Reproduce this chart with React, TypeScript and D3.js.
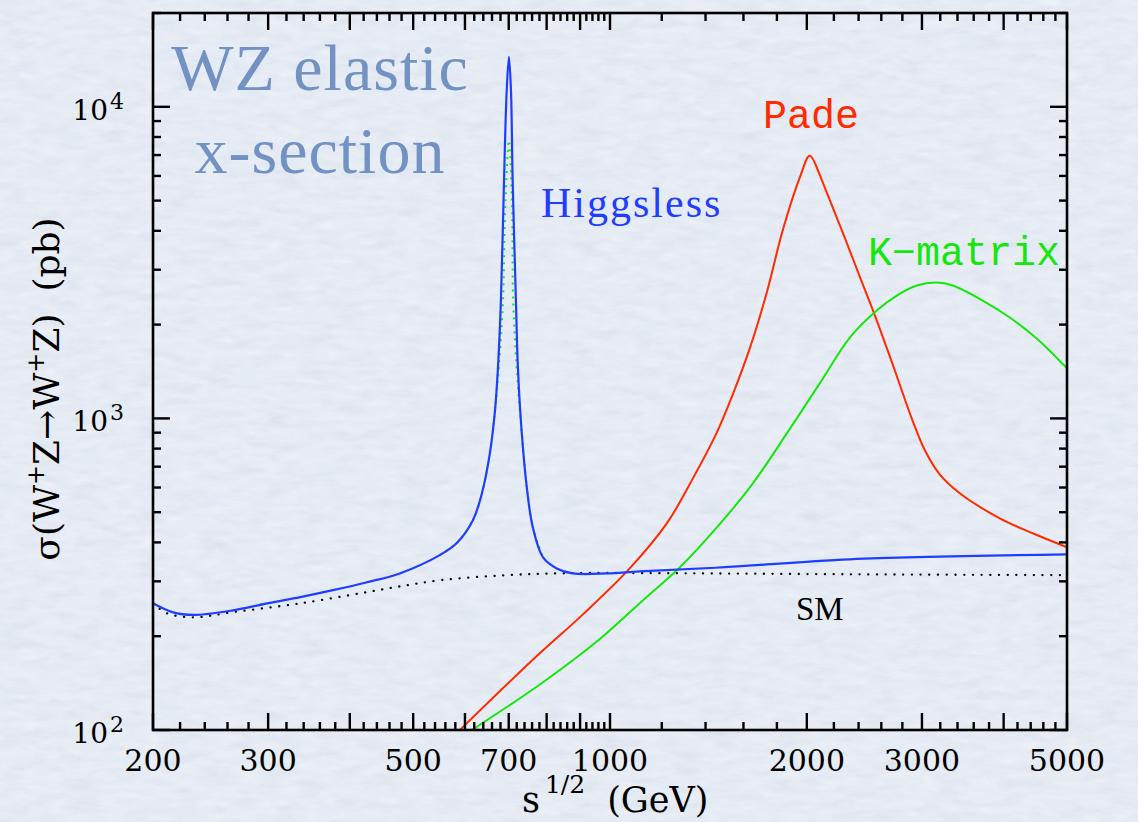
import React from "react";
import * as d3 from "d3";

const W = 1138;
const H = 822;

// axis domains / tick labels
const xDomain: [number, number] = [200, 5000];
const yDomain: [number, number] = [100, 20000];
const xTickLabels = [200, 300, 500, 700, 1000, 2000, 3000, 5000];
const xMajorTicks = [200, 300, 400, 500, 600, 700, 800, 900, 1000, 2000, 3000, 4000, 5000];
const yDecades = [100, 1000, 10000];
const yTickExponents = ["2", "3", "4"];

// series: [sqrt(s) GeV, sigma pb]
const higgsless: [number, number][] = [
  [200, 255], [214, 239], [231, 234], [265, 242], [299, 255], [336, 267], [377, 281],
  [425, 298], [477, 318], [549, 364], [583, 398], [617, 471], [637, 575], [655, 772],
  [667, 1061], [674, 1457], [681, 2388], [688.5, 5794], [695, 11250], [700.6, 14460],
  [705.6, 11250], [709.8, 5794], [718, 2388], [723, 1457], [733, 895], [746, 601],
  [762, 447], [790, 358], [829, 330], [877, 318], [989, 318], [1111, 323], [1500, 333],
  [2327, 353], [5000, 366],
];
const higgslessAlt: [number, number][] = [
  [549, 364], [583, 398], [617, 471], [637, 575], [655, 772], [667, 1061], [676, 1457],
  [686, 2388], [692, 5000], [700.6, 7800], [708, 5000], [711, 2388], [720, 1457],
  [733, 895], [746, 601], [762, 447], [790, 358],
];
const sm: [number, number][] = [
  [200, 255], [210, 237], [230, 230], [265, 239], [336, 255], [425, 277], [477, 289],
  [554, 303], [696, 314], [858, 318.5], [1224, 318.5], [2327, 316], [5000, 314],
];
const pade: [number, number][] = [
  [589.5, 100], [762, 168], [909, 235], [1072, 330], [1222, 461], [1339, 642],
  [1457, 902], [1541, 1194], [1636, 1677], [1737, 2534], [1837, 4006], [1951, 5922],
  [2021, 6966], [2093, 6053], [2116, 5706], [2270, 3947], [2410, 2852], [2559, 2061],
  [2727, 1425], [2894, 1000], [3031, 790], [3194, 661], [3427, 575], [3946, 478],
  [4431, 428], [5000, 386],
];
const kmatrix: [number, number][] = [
  [614.8, 100], [781, 140], [965, 196], [1119, 259], [1279, 333], [1457, 447], [1654, 619],
  [1864, 895], [2093, 1295], [2327, 1818], [2558, 2220], [2746, 2479], [2946, 2669],
  [3161, 2729], [3344, 2669], [3716, 2388], [4088, 2107], [4494, 1805], [5000, 1447],
];

const BLUE = "#1f3dff";
const RED = "#ff2a00";
const GREEN = "#16e60e";
const TITLE = "#7292c3";

export default function App() {
  const left = 153, right = 1067, top = 13, bottom = 730;
  const x = d3.scaleLog().domain(xDomain).range([left, right]);
  const y = d3.scaleLog().domain(yDomain).range([bottom, top]);
  const line = d3
    .line<[number, number]>()
    .x((d) => x(d[0]))
    .y((d) => y(d[1]))
    .curve(d3.curveCatmullRom.alpha(0.5));

  const majLen = 17, minLen = 8;

  const xMinor: number[] = [];
  for (let v = 220; v < 1000; v += 20) if (v % 100 !== 0) xMinor.push(v);
  for (let v = 1200; v < 5000; v += 200) if (v % 1000 !== 0) xMinor.push(v);

  const yMinor: number[] = [];
  yDecades.forEach((d) => {
    for (let k = 2; k <= 9; k++) if (k * d <= yDomain[1]) yMinor.push(k * d);
  });

  const tickStroke = { stroke: "#000", strokeWidth: 2.4 };
  const serif = "'DejaVu Serif', serif";

  return (
    <svg
      width={W}
      height={H}
      style={{ position: "absolute", left: 0, top: 0 }}
      xmlns="http://www.w3.org/2000/svg"
    >
      <defs>
        <filter id="paper" x="0" y="0" width="100%" height="100%">
          <feTurbulence type="fractalNoise" baseFrequency="0.03 0.1" numOctaves={4} seed={7} />
          <feColorMatrix
            type="matrix"
            values="0 0 0 0 0.55  0 0 0 0 0.6  0 0 0 0 0.68  0.55 0 0 0 -0.24"
          />
        </filter>
        <filter id="paper2" x="0" y="0" width="100%" height="100%">
          <feTurbulence type="fractalNoise" baseFrequency="0.05 0.14" numOctaves={3} seed={21} />
          <feColorMatrix
            type="matrix"
            values="0 0 0 0 1  0 0 0 0 1  0 0 0 0 1  0 0.6 0 0 -0.24"
          />
        </filter>
        <clipPath id="plot">
          <rect x={left} y={top} width={right - left} height={bottom - top} />
        </clipPath>
      </defs>
      <rect x={0} y={0} width={W} height={H} fill="#e5ebf4" />
      <rect x={0} y={0} width={W} height={H} filter="url(#paper)" />
      <rect x={0} y={0} width={W} height={H} filter="url(#paper2)" />

      {/* title */}
      <g fontFamily="'Liberation Serif', serif" fontSize={66} fill={TITLE} textAnchor="middle" letterSpacing={1}>
        <text x={320} y={90}>WZ elastic</text>
        <text x={320} y={173}>x-section</text>
      </g>

      {/* curves */}
      <g clipPath="url(#plot)" fill="none" strokeLinejoin="round">
        <path d={line(sm) || ""} stroke="#000" strokeWidth={2.3} strokeDasharray="0.1 8.6" strokeLinecap="round" />
        <path d={line(pade) || ""} stroke={RED} strokeWidth={2} />
        <path d={line(kmatrix) || ""} stroke={GREEN} strokeWidth={2} />
        <path d={line(higgslessAlt) || ""} stroke={GREEN} strokeWidth={2} strokeDasharray="2 5" />
        <path d={line(higgsless) || ""} stroke={BLUE} strokeWidth={2.2} />
      </g>

      {/* frame */}
      <rect x={left} y={top} width={right - left} height={bottom - top} fill="none" stroke="#000" strokeWidth={2.6} />

      {/* ticks */}
      <g {...tickStroke}>
        {xMajorTicks.map((v) => (
          <g key={"xM" + v}>
            <line x1={x(v)} x2={x(v)} y1={bottom} y2={bottom - majLen} />
            <line x1={x(v)} x2={x(v)} y1={top} y2={top + majLen} />
          </g>
        ))}
        {xMinor.map((v) => (
          <g key={"xm" + v}>
            <line x1={x(v)} x2={x(v)} y1={bottom} y2={bottom - minLen} />
            <line x1={x(v)} x2={x(v)} y1={top} y2={top + minLen} />
          </g>
        ))}
        {yDecades.map((v) => (
          <g key={"yM" + v}>
            <line x1={left} x2={left + majLen} y1={y(v)} y2={y(v)} />
            <line x1={right} x2={right - majLen} y1={y(v)} y2={y(v)} />
          </g>
        ))}
        {yMinor.map((v) => (
          <g key={"ym" + v}>
            <line x1={left} x2={left + minLen} y1={y(v)} y2={y(v)} />
            <line x1={right} x2={right - minLen} y1={y(v)} y2={y(v)} />
          </g>
        ))}
      </g>

      {/* x tick labels */}
      <g fontFamily={serif} fontSize={30} fill="#000" textAnchor="middle">
        {xTickLabels.map((v) => (
          <text key={"xl" + v} x={x(v)} y={771}>
            {v}
          </text>
        ))}
      </g>

      {/* y tick labels */}
      <g fontFamily={serif} fontSize={28} fill="#000" textAnchor="end">
        {yDecades.map((v, i) => (
          <text key={"yl" + v} x={124} y={y(v) + 13}>
            10
            <tspan fontSize={22} dy={-11} dx={2}>
              {yTickExponents[i]}
            </tspan>
          </text>
        ))}
      </g>

      {/* x axis title */}
      <text x={522} y={812} fontFamily={serif} fontSize={35} fill="#000">
        s
        <tspan fontSize={25} dy={-19} dx={5}>1/2</tspan>
        <tspan dy={19} dx={22}>(GeV)</tspan>
      </text>

      {/* y axis title */}
      <text
        transform="translate(59,389) rotate(-90)"
        fontFamily={serif}
        fontSize={36}
        fill="#000"
        textAnchor="middle"
      >
        σ(W<tspan fontSize={24} dy={-15}>+</tspan>
        <tspan dy={15}>Z→W</tspan>
        <tspan fontSize={24} dy={-15}>+</tspan>
        <tspan dy={15}>Z)</tspan>
        <tspan dx={22}>(pb)</tspan>
      </text>

      {/* series labels */}
      <text x={541} y={217} fontFamily="'Liberation Serif', serif" fontSize={42} letterSpacing={2} fill={BLUE}>
        Higgsless
      </text>
      <text x={763} y={128} fontFamily="'Liberation Mono', monospace" fontSize={40} fill={RED}>
        Pade
      </text>
      <text x={868} y={265} fontFamily="'Liberation Mono', monospace" fontSize={40} fill={GREEN}>
        K−matrix
      </text>
      <text x={796} y={620} fontFamily="'Liberation Serif', serif" fontSize={33} fill="#000">
        SM
      </text>
    </svg>
  );
}
